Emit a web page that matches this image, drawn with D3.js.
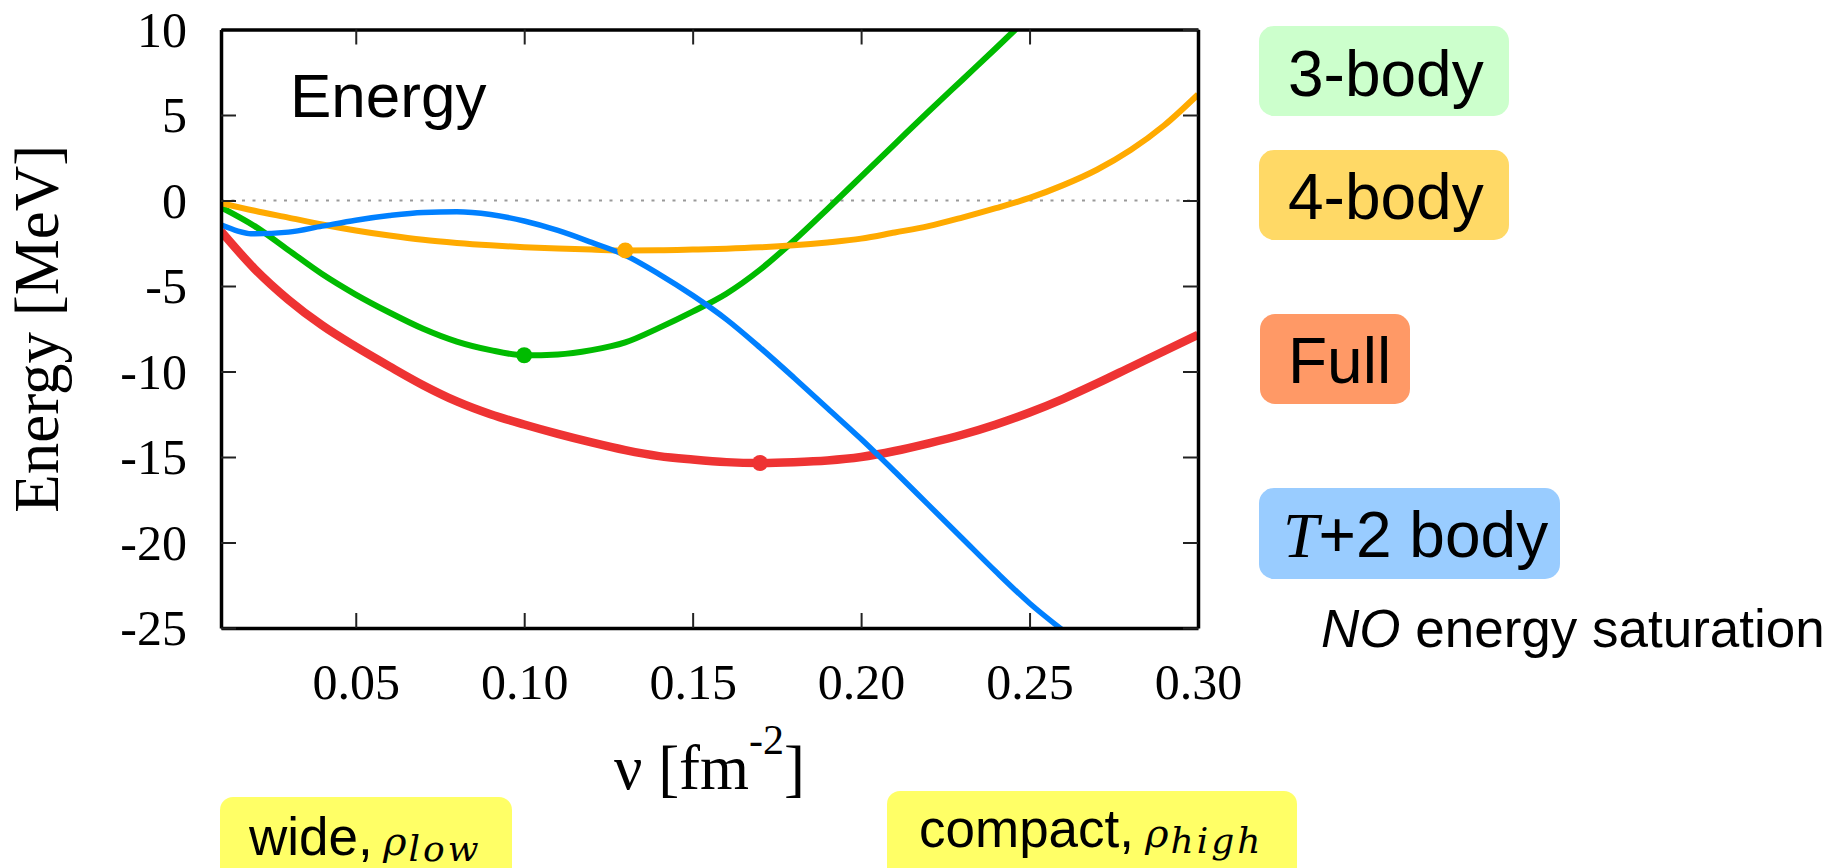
<!DOCTYPE html>
<html>
<head>
<meta charset="utf-8">
<script src="https://cdnjs.cloudflare.com/ajax/libs/d3/7.8.5/d3.min.js"></script>
<style>
  body { margin: 0; background: #fff; }
  svg { display: block; }
</style>
</head>
<body>
<svg></svg>
<script>
// nu values [fm^-2] where each curve was sampled
let nu = [0.01, 0.02, 0.03, 0.04, 0.05, 0.06, 0.07, 0.08, 0.09, 0.10,
          0.11, 0.12, 0.13, 0.14, 0.15, 0.16, 0.17, 0.18, 0.19, 0.20,
          0.21, 0.22, 0.23, 0.24, 0.25, 0.26, 0.27, 0.28, 0.29, 0.30];

// Energies in MeV (null = off the chart)
let fullEnergy = [-1.8, -4.0, -5.8, -7.3, -8.55, -9.7, -10.8, -11.75, -12.5, -13.1,
                  -13.65, -14.15, -14.6, -14.95, -15.15, -15.3, -15.35, -15.3, -15.2, -15.0,
                  -14.65, -14.2, -13.7, -13.1, -12.4, -11.6, -10.7, -9.75, -8.8, -7.85];
let threeBody = [-0.4, -1.5, -2.9, -4.3, -5.5, -6.55, -7.5, -8.25, -8.75, -9.05,
                 -9.0, -8.75, -8.3, -7.45, -6.5, -5.45, -4.05, -2.35, -0.5, 1.4,
                 3.3, 5.2, 7.05, 8.9, 10.8, null, null, null, null, null];
let fourBody = [-0.15, -0.6, -1.0, -1.4, -1.75, -2.05, -2.3, -2.48, -2.62, -2.73,
                -2.81, -2.87, -2.92, -2.91, -2.87, -2.82, -2.74, -2.62, -2.45, -2.23,
                -1.87, -1.5, -1.0, -0.45, 0.15, 0.9, 1.8, 2.95, 4.4, 6.2];
let twoBody = [-1.42, -1.95, -1.85, -1.5, -1.15, -0.88, -0.7, -0.66, -0.82, -1.2,
               -1.75, -2.45, -3.2, -4.3, -5.55, -6.95, -8.6, -10.35, -12.15, -13.95,
               -15.85, -17.8, -19.75, -21.7, -23.55, -25.15, null, null, null, null];

let xTicks = [0.05, 0.10, 0.15, 0.20, 0.25, 0.30];
let yTicks = [10, 5, 0, -5, -10, -15, -20, -25];

let width = 1833;
let height = 868;
let plotLeft = 221;
let plotRight = 1198;
let plotTop = 29.5;
let plotBottom = 628;

let svg = d3.select("svg");
let xScale;
let yScale;

let drawCanvas = () => {
    svg.attr("width", width).attr("height", height);
    svg.append("rect").attr("width", width).attr("height", height).attr("fill", "#fff");
}

let generateScales = () => {
    xScale = d3.scaleLinear().domain([0.01, 0.30]).range([plotLeft, plotRight]);
    yScale = d3.scaleLinear().domain([-25, 10]).range([plotBottom, plotTop]);
}

// dotted zero line
let drawZeroLine = () => {
    svg.append("line")
        .attr("x1", plotLeft).attr("x2", plotRight)
        .attr("y1", yScale(0)).attr("y2", yScale(0))
        .attr("stroke", "#999")
        .attr("stroke-width", 2)
        .attr("stroke-dasharray", "3,7.5");
}

let drawCurves = () => {
    svg.append("clipPath").attr("id", "plot-clip")
        .append("rect")
        .attr("x", plotLeft).attr("y", plotTop)
        .attr("width", plotRight - plotLeft).attr("height", plotBottom - plotTop);

    let series = [
        {values: fullEnergy, color: "#EE3333", width: 8.5},
        {values: threeBody, color: "#00BB00", width: 6},
        {values: fourBody, color: "#FFAA00", width: 6},
        {values: twoBody, color: "#0080FF", width: 5.5}
    ];

    let line = d3.line()
        .defined((d) => d != null)
        .x((d, i) => xScale(nu[i]))
        .y((d) => yScale(d))
        .curve(d3.curveMonotoneX);

    let g = svg.append("g").attr("clip-path", "url(#plot-clip)");
    series.forEach((s) => {
        g.append("path")
            .attr("d", line(s.values))
            .attr("fill", "none")
            .attr("stroke", s.color)
            .attr("stroke-width", s.width)
            .attr("stroke-linejoin", "round");
    });

    // mark the minimum of the three curves that have one
    [series[0], series[1], series[2]].forEach((s) => {
        let i = d3.minIndex(s.values);
        g.append("circle")
            .attr("cx", xScale(nu[i]))
            .attr("cy", yScale(s.values[i]))
            .attr("r", 8)
            .attr("fill", s.color);
    });
}

let generateAxis = () => {
    let xAxis = d3.axisBottom(xScale).tickValues(xTicks)
        .tickFormat(d3.format(".2f")).tickSizeInner(-15).tickSizeOuter(0).tickPadding(35);
    let yAxis = d3.axisLeft(yScale).tickValues(yTicks)
        .tickFormat((d) => String(d)).tickSizeInner(-15).tickSizeOuter(0).tickPadding(34);
    let topAxis = d3.axisTop(xScale).tickValues(xTicks).tickFormat("").tickSizeInner(-15).tickSizeOuter(0);
    let rightAxis = d3.axisRight(yScale).tickValues(yTicks).tickFormat("").tickSizeInner(-15).tickSizeOuter(0);

    let axes = [
        svg.append("g").attr("transform", "translate(0," + plotBottom + ")").call(xAxis),
        svg.append("g").attr("transform", "translate(" + plotLeft + ",0)").call(yAxis),
        svg.append("g").attr("transform", "translate(0," + plotTop + ")").call(topAxis),
        svg.append("g").attr("transform", "translate(" + plotRight + ",0)").call(rightAxis)
    ];
    axes.forEach((a) => {
        a.select(".domain").attr("stroke", "#000").attr("stroke-width", 3.5);
        a.selectAll(".tick line").attr("stroke", "#222").attr("stroke-width", 2);
        a.selectAll(".tick text")
            .attr("fill", "#000")
            .style("font-family", "'Liberation Serif', 'Times New Roman', serif")
            .style("font-size", "50px");
    });
    axes[1].selectAll(".tick text").attr("dy", "0.33em");

    // axis titles
    svg.append("text")
        .attr("transform", "translate(58," + ((plotTop + plotBottom) / 2) + ") rotate(-90)")
        .attr("text-anchor", "middle")
        .style("font-family", "'Liberation Serif', serif")
        .style("font-size", "63px")
        .text("Energy [MeV]");

    let xt = svg.append("text")
        .attr("x", (plotLeft + plotRight) / 2)
        .attr("y", 789)
        .attr("text-anchor", "middle")
        .style("font-family", "'Liberation Serif', serif")
        .style("font-size", "63px");
    xt.append("tspan").text("\u03BD [fm");
    xt.append("tspan").attr("dy", -35).style("font-size", "42px").text("-2");
    xt.append("tspan").attr("dy", 35).text("]");

    svg.append("text")
        .attr("x", 290).attr("y", 117)
        .style("font-family", "'Liberation Sans', Arial, sans-serif")
        .style("font-size", "62px")
        .text("Energy");
}

// coloured label boxes on the right and below
let drawLabels = () => {
    let sans = "'Liberation Sans', Arial, sans-serif";
    let boxes = [
        {x: 1259, y: 26, w: 250, h: 90, fill: "#CCFFCC", text: "3-body", base: 96},
        {x: 1259, y: 150, w: 250, h: 90, fill: "#FFD966", text: "4-body", base: 219},
        {x: 1260, y: 314, w: 150, h: 90, fill: "#FF9966", text: "Full", base: 383},
        {x: 1259, y: 488, w: 301, h: 91, fill: "#99CCFF", text: null, base: 557}
    ];
    boxes.forEach((b) => {
        svg.append("rect").attr("x", b.x).attr("y", b.y).attr("width", b.w).attr("height", b.h)
            .attr("rx", 15).attr("fill", b.fill);
        if (b.text) {
            svg.append("text").attr("x", 1288).attr("y", b.base)
                .style("font-family", sans).style("font-size", "64px").text(b.text);
        }
    });
    let t2 = svg.append("text").attr("x", 1283).attr("y", 557).style("font-size", "64px");
    t2.append("tspan").style("font-family", "'Liberation Serif', serif").style("font-style", "italic").text("T");
    t2.append("tspan").style("font-family", sans).text("+2 body");

    let ns = svg.append("text").attr("x", 1321).attr("y", 647)
        .style("font-family", sans).style("font-size", "53px");
    ns.append("tspan").style("font-style", "italic").text("NO");
    ns.append("tspan").text(" energy saturation");

    let bottom = [
        {x: 220, y: 797, w: 292, word: "wide,", sub: "low", tx: 249, base: 855, rx: 383},
        {x: 887, y: 791, w: 410, word: "compact,", sub: "high", tx: 919, base: 847, rx: 1145}
    ];
    bottom.forEach((b) => {
        svg.append("rect").attr("x", b.x).attr("y", b.y).attr("width", b.w).attr("height", 120)
            .attr("rx", 13).attr("fill", "#FFFF66");
        svg.append("text").attr("x", b.tx).attr("y", b.base)
            .style("font-family", sans).style("font-size", "53px").text(b.word);
        let m = svg.append("text").attr("x", b.rx).attr("y", b.base)
            .style("font-family", "'DejaVu Serif', serif").style("font-style", "italic")
            .style("font-size", "40px");
        m.append("tspan").text("\u03C1");
        m.append("tspan").attr("dy", 6).attr("dx", 2).style("font-size", "36px").style("letter-spacing", "3px").text(b.sub);
    });
}

drawCanvas();
generateScales();
drawZeroLine();
drawCurves();
generateAxis();
drawLabels();
</script>
</body>
</html>
